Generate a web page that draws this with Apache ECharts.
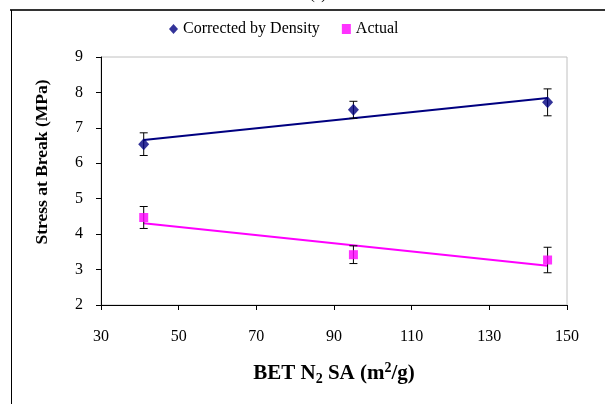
<!DOCTYPE html>
<html>
<head>
<meta charset="utf-8">
<script src="https://cdn.jsdelivr.net/npm/echarts@6/dist/echarts.min.js"></script>
<style>
html,body{margin:0;padding:0;background:#fff;}
#chart{width:605px;height:404px;}
</style>
</head>
<body>
<div id="chart"></div>
<script>
// ---- data ----
var betSA = [41, 95, 145];
var correctedByDensity = [6.54, 7.51, 7.72];
var correctedErr = [0.32, 0.24, 0.38];
var actual = [4.47, 3.42, 3.27];
var actualErr = [0.31, 0.25, 0.36];
var trendX = [41, 145];
var correctedTrend = [6.66, 7.84];
var actualTrend = [4.31, 3.11];
var xTicks = [30, 50, 70, 90, 110, 130, 150];
var yTicks = [2, 3, 4, 5, 6, 7, 8, 9];

var FONT = '"Liberation Serif", "Times New Roman", serif';

function pairs(xs, ys) { return xs.map(function (x, i) { return [x, ys[i]]; }); }
function errData(xs, ys, es) { return xs.map(function (x, i) { return [x, ys[i] - es[i], ys[i] + es[i]]; }); }

function errRender(params, api) {
  var x = api.value(0);
  var lo = api.coord([x, api.value(1)]);
  var hi = api.coord([x, api.value(2)]);
  var cap = 4;
  var st = { stroke: '#000', lineWidth: 1 };
  return {
    type: 'group',
    children: [
      { type: 'line', shape: { x1: lo[0], y1: lo[1], x2: hi[0], y2: hi[1] }, style: st },
      { type: 'line', shape: { x1: lo[0] - cap, y1: lo[1], x2: lo[0] + cap, y2: lo[1] }, style: st },
      { type: 'line', shape: { x1: hi[0] - cap, y1: hi[1], x2: hi[0] + cap, y2: hi[1] }, style: st }
    ]
  };
}

var chart = echarts.init(document.getElementById('chart'), null, { renderer: 'canvas' });
var option = {
  animation: false,
  backgroundColor: '#fff',
  textStyle: { fontFamily: FONT, color: '#000' },
  grid: { left: 101, top: 57, width: 466, height: 248, show: true, borderColor: '#c0c0c0', borderWidth: 1, backgroundColor: 'transparent' },
  legend: {
    data: ['Corrected by Density', 'Actual'],
    left: 164, top: 16,
    itemWidth: 9, itemHeight: 10, itemGap: 22,
    textStyle: { fontFamily: FONT, fontSize: 16, color: '#000' }
  },
  xAxis: {
    type: 'value', min: xTicks[0], max: xTicks[xTicks.length - 1], interval: 20,
    axisLine: { show: true, onZero: false, lineStyle: { color: '#000', width: 1 } },
    axisTick: { show: true, length: 5, lineStyle: { color: '#000' } },
    axisLabel: { fontFamily: FONT, fontSize: 16, color: '#000', margin: 24 },
    splitLine: { show: false }
  },
  yAxis: {
    type: 'value', min: yTicks[0], max: yTicks[yTicks.length - 1], interval: 1,
    axisLine: { show: true, onZero: false, lineStyle: { color: '#000', width: 1 } },
    axisTick: { show: true, length: 5, lineStyle: { color: '#000' } },
    axisLabel: { fontFamily: FONT, fontSize: 16, color: '#000', margin: 18 },
    splitLine: { show: false }
  },
  series: [
    { name: 'trendC', type: 'line', data: pairs(trendX, correctedTrend), symbol: 'none', lineStyle: { color: '#000080', width: 2 }, z: 2, silent: true },
    { name: 'trendA', type: 'line', data: pairs(trendX, actualTrend), symbol: 'none', lineStyle: { color: '#ff00ff', width: 2 }, z: 2, silent: true },
    { name: 'errC', type: 'custom', renderItem: errRender, data: errData(betSA, correctedByDensity, correctedErr), z: 3 },
    { name: 'errA', type: 'custom', renderItem: errRender, data: errData(betSA, actual, actualErr), z: 3 },
    { name: 'Corrected by Density', type: 'scatter', data: pairs(betSA, correctedByDensity), symbol: 'diamond', symbolSize: [11, 12], itemStyle: { color: '#000080' }, z: 4 },
    { name: 'Actual', type: 'scatter', data: pairs(betSA, actual), symbol: 'rect', symbolSize: [9, 9], itemStyle: { color: '#ff00ff' }, z: 4 }
  ],
  graphic: [
    { type: 'line', shape: { x1: 10, y1: 10, x2: 605, y2: 10 }, style: { stroke: '#333', lineWidth: 2 }, z: 10 },
    { type: 'line', shape: { x1: 11.5, y1: 10, x2: 11.5, y2: 404 }, style: { stroke: '#000', lineWidth: 1 }, z: 10 },
    { type: 'text', x: 318, y: 3, style: { text: '(a)', fontFamily: FONT, fontSize: 15, fill: '#000', textAlign: 'center', textVerticalAlign: 'bottom' } },
    { type: 'text', x: 42, y: 162, rotation: Math.PI / 2,
      style: { text: 'Stress at Break (MPa)', fontFamily: FONT, fontSize: 17.5, fontWeight: 'bold', fill: '#000', textAlign: 'center', textVerticalAlign: 'middle' } },
    { type: 'text', x: 334, y: 374,
      style: {
        text: '{b|BET N}{sub|2}{b| SA (m}{sup|2}{b|/g)}',
        textAlign: 'center', textVerticalAlign: 'middle',
        rich: {
          b: { fontFamily: FONT, fontSize: 21, fontWeight: 'bold', fill: '#000' },
          sub: { fontFamily: FONT, fontSize: 14, fontWeight: 'bold', fill: '#000', padding: [11, 0, 0, 0] },
          sup: { fontFamily: FONT, fontSize: 14, fontWeight: 'bold', fill: '#000', padding: [0, 0, 11, 0] }
        }
      } }
  ]
};
chart.setOption(option);
</script>
</body>
</html>
